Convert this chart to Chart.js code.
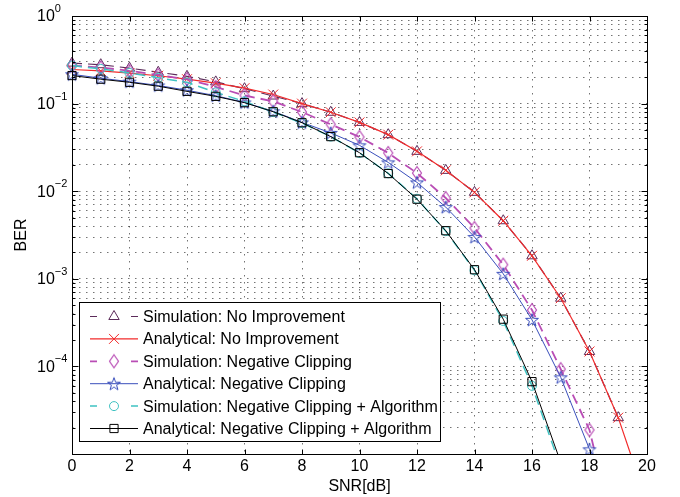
<!DOCTYPE html>
<html>
<head>
<meta charset="utf-8">
<script src="https://cdn.jsdelivr.net/npm/chart.js@4.4.0/dist/chart.umd.min.js"></script>
<style>
  html, body { margin: 0; padding: 0; background: #fff; }
  #wrap { width: 680px; height: 497px; }
</style>
</head>
<body>
<div id="wrap"><canvas id="berChart" width="680" height="497"></canvas></div>
<script>
// SNR values (dB)
const snr = [0, 1, 2, 3, 4, 5, 6, 7, 8, 9, 10, 11, 12, 13, 14, 15, 16, 17, 18, 19, 20];

// BER curves
const simNoImprovement = [0.29, 0.278, 0.254, 0.228, 0.205, 0.177, 0.148, 0.122, 0.1, 0.0796, 0.061, 0.0442, 0.0285, 0.0173, 0.0097, 0.0046, 0.00183, 0.0006, 0.000148, 0.000026, null];
const anaNoImprovement = [0.245, 0.236, 0.223, 0.208, 0.19, 0.171, 0.15, 0.127, 0.1, 0.0796, 0.061, 0.0442, 0.0285, 0.0173, 0.0097, 0.0046, 0.00183, 0.0006, 0.000148, 0.000026, 0.0000028];
const simNegClip = [0.272, 0.258, 0.237, 0.212, 0.19, 0.155, 0.124, 0.106, 0.08, 0.058, 0.0416, 0.0273, 0.0161, 0.00836, 0.0038, 0.00145, 0.00044, 0.000093, 0.0000188, 0.0000008, null];
const anaNegClip = [0.216, 0.195, 0.178, 0.161, 0.142, 0.123, 0.103, 0.0817, 0.061, 0.0463, 0.0334, 0.0213, 0.0126, 0.00659, 0.003, 0.00114, 0.00034, 0.000075, 0.0000113, 0.0000032, null];
const simNegClipAlg = [0.272, 0.249, 0.224, 0.197, 0.175, 0.134, 0.106, 0.08, 0.06, 0.042, 0.0273, 0.016, 0.0082, 0.0035, 0.00125, 0.00033, 0.00006, 0.000007, null, null, null];
const anaNegClipAlg = [0.209, 0.19, 0.175, 0.158, 0.138, 0.121, 0.1025, 0.0807, 0.0605, 0.042, 0.0275, 0.0159, 0.0081, 0.00354, 0.00127, 0.000346, 0.000067, 0.000008, null, null, null];

// axis ticks
const xTicks = [0, 2, 4, 6, 8, 10, 12, 14, 16, 18, 20];
const yDecades = [1, 1e-1, 1e-2, 1e-3, 1e-4, 1e-5];
// the bottom decade carries no label in the original
const yLabelDecades = [1, 1e-1, 1e-2, 1e-3, 1e-4];
const yExponents = ["0", "\u22121", "\u22122", "\u22123", "\u22124"];

const legendLabels = [
  "Simulation: No Improvement",
  "Analytical: No Improvement",
  "Simulation: Negative Clipping",
  "Analytical: Negative Clipping",
  "Simulation: Negative Clipping + Algorithm",
  "Analytical: Negative Clipping + Algorithm",
];

const FONT = "'Liberation Sans', Arial, Helvetica, sans-serif";

// minor + major positions for the log grid
const yGrid = [];
for (let e = -5; e < 0; e++) {
  for (let m = 1; m <= 9; m++) yGrid.push(m * Math.pow(10, e));
}
yGrid.push(1);

// custom marker shapes (MATLAB-like pentagram and diamond)
function makeStar(color) {
  const c = document.createElement("canvas");
  c.width = 18; c.height = 18;
  const g = c.getContext("2d");
  g.strokeStyle = color; g.lineWidth = 1;
  g.beginPath();
  for (let i = 0; i < 10; i++) {
    const r = i % 2 === 0 ? 6.8 : 2.7;
    const a = -Math.PI / 2 + i * Math.PI / 5;
    const px = 9 + r * Math.cos(a), py = 9.6 + r * Math.sin(a);
    if (i === 0) g.moveTo(px, py); else g.lineTo(px, py);
  }
  g.closePath(); g.stroke();
  return c;
}
function makeDiamond(color) {
  const c = document.createElement("canvas");
  c.width = 14; c.height = 16;
  const g = c.getContext("2d");
  g.strokeStyle = color; g.lineWidth = 1.2;
  g.beginPath();
  g.moveTo(7, 1.5); g.lineTo(11.5, 8); g.lineTo(7, 14.5); g.lineTo(2.5, 8);
  g.closePath(); g.stroke();
  return c;
}

const colPurple = "#5c2b5a";
const colRed = "#f22b2b";
const colMagenta = "#b94db5";
const colBlue = "#3a4fbc";
const colCyan = "#3fc2c2";
const colBlack = "#000000";

const clipLeft = { left: 14, top: 0, right: 0, bottom: 0 };

function series(label, data, color, dashed, style, radius, width, order) {
  return {
    label: label,
    data: data,
    borderColor: color,
    borderWidth: width,
    borderDash: dashed ? [10, 6] : [],
    pointStyle: style,
    pointRadius: radius,
    pointBorderColor: color,
    pointBackgroundColor: "rgba(0,0,0,0)",
    pointBorderWidth: 1,
    tension: 0,
    fill: false,
    spanGaps: false,
    order: order,
    clip: clipLeft,
  };
}

const datasets = [
  series(legendLabels[0], simNoImprovement, colPurple, true, "triangle", 6, 1.2, 6),
  series(legendLabels[1], anaNoImprovement, colRed, false, "crossRot", 7, 1.2, 5),
  series(legendLabels[2], simNegClip, colMagenta, true, makeDiamond(colMagenta), 6, 1.8, 4),
  series(legendLabels[3], anaNegClip, colBlue, false, makeStar(colBlue), 6, 1, 3),
  series(legendLabels[4], simNegClipAlg, colCyan, true, "circle", 4.5, 1.5, 2),
  series(legendLabels[5], anaNegClipAlg, colBlack, false, "rect", 5.8, 1, 1),
];

function drawMarker(ctx, style, radius, x, y) {
  if (style instanceof HTMLCanvasElement) {
    ctx.drawImage(style, x - style.width / 2, y - style.height / 2);
    return;
  }
  ctx.beginPath();
  if (style === "triangle") {
    for (let i = 0; i < 3; i++) {
      const a = i * 2 * Math.PI / 3;
      const px = x + Math.sin(a) * radius, py = y - Math.cos(a) * radius;
      if (i === 0) ctx.moveTo(px, py); else ctx.lineTo(px, py);
    }
    ctx.closePath();
  } else if (style === "crossRot") {
    const d = radius * Math.SQRT1_2;
    ctx.moveTo(x - d, y - d); ctx.lineTo(x + d, y + d);
    ctx.moveTo(x - d, y + d); ctx.lineTo(x + d, y - d);
  } else if (style === "circle") {
    ctx.arc(x, y, radius, 0, Math.PI * 2);
  } else if (style === "rect") {
    const s = radius * Math.SQRT1_2;
    ctx.rect(x - s, y - s, 2 * s, 2 * s);
  }
  ctx.stroke();
}

const matlabFrame = {
  id: "matlabFrame",
  beforeDraw(chart) {
    const ctx = chart.ctx;
    ctx.save();
    ctx.fillStyle = "#fff";
    ctx.fillRect(0, 0, chart.width, chart.height);
    ctx.restore();
  },
  afterDatasetsDraw(chart) {
    const ctx = chart.ctx;
    const xs = chart.scales.x, ys = chart.scales.y;
    const a = chart.chartArea;
    const L = Math.round(a.left) + 0.5, R = Math.round(a.right) + 0.5;
    const T = Math.round(a.top) + 0.5, B = Math.round(a.bottom) + 0.5;
    ctx.save();
    ctx.strokeStyle = "#000";
    ctx.lineWidth = 1;
    ctx.setLineDash([]);
    ctx.strokeRect(L, T, R - L, B - T);

    // inward tick marks
    ctx.beginPath();
    xTicks.forEach((v) => {
      const px = Math.round(xs.getPixelForValue(v)) + 0.5;
      ctx.moveTo(px, B); ctx.lineTo(px, B - 5);
      ctx.moveTo(px, T); ctx.lineTo(px, T + 5);
    });
    yGrid.forEach((v) => {
      const py = Math.round(ys.getPixelForValue(v)) + 0.5;
      const len = yDecades.indexOf(v) >= 0 ? 6 : 3;
      ctx.moveTo(L, py); ctx.lineTo(L + len, py);
      ctx.moveTo(R, py); ctx.lineTo(R - len, py);
    });
    ctx.stroke();

    // tick labels
    ctx.fillStyle = "#000";
    ctx.font = "16px " + FONT;
    ctx.textAlign = "center";
    ctx.textBaseline = "middle";
    xTicks.forEach((v) => {
      ctx.fillText(String(v), xs.getPixelForValue(v), 467);
    });
    yLabelDecades.forEach((v, i) => {
      const py = ys.getPixelForValue(v);
      ctx.font = "16px " + FONT;
      ctx.textAlign = "left";
      ctx.fillText("10", 37, py + 1);
      const w = ctx.measureText("10").width;
      ctx.font = "11px " + FONT;
      ctx.fillText(yExponents[i], 37 + w, py - 7);
    });

    // axis titles
    ctx.font = "16px " + FONT;
    ctx.textAlign = "center";
    ctx.fillText("SNR[dB]", (a.left + a.right) / 2, 487);
    ctx.save();
    ctx.translate(22, (a.top + a.bottom) / 2);
    ctx.rotate(-Math.PI / 2);
    ctx.fillText("BER", 0, 0);
    ctx.restore();
    ctx.restore();
  },
  afterDraw(chart) {
    const ctx = chart.ctx;
    ctx.save();
    // legend box
    ctx.fillStyle = "#fff";
    ctx.fillRect(79.5, 302.5, 361, 139);
    ctx.strokeStyle = "#000";
    ctx.lineWidth = 1;
    ctx.strokeRect(79.5, 302.5, 361, 139);

    chart.data.datasets.forEach((ds, i) => {
      const y = 316.5 + i * 22.4;
      ctx.strokeStyle = ds.borderColor;
      ctx.lineWidth = ds.borderWidth;
      ctx.setLineDash([]);
      ctx.beginPath();
      if (ds.borderDash.length) {
        ctx.moveTo(90, y); ctx.lineTo(97, y);
        ctx.moveTo(131, y); ctx.lineTo(138, y);
      } else {
        ctx.moveTo(90, y); ctx.lineTo(138, y);
      }
      ctx.stroke();
      ctx.lineWidth = 1;
      drawMarker(ctx, ds.pointStyle, ds.pointRadius, 114, y);
      ctx.fillStyle = "#000";
      ctx.font = "16px " + FONT;
      ctx.textAlign = "left";
      ctx.textBaseline = "middle";
      ctx.fillText(ds.label, 143, y + 1);
    });
    ctx.restore();
  },
};

new Chart(document.getElementById("berChart"), {
  type: "line",
  data: { labels: snr, datasets: datasets },
  options: {
    responsive: false,
    animation: false,
    devicePixelRatio: 1,
    layout: { padding: { left: 72, right: 33, top: 16, bottom: 43 } },
    plugins: { legend: { display: false }, tooltip: { enabled: false } },
    scales: {
      x: {
        type: "linear",
        min: 0,
        max: 20,
        afterBuildTicks: (scale) => { scale.ticks = xTicks.map((v) => ({ value: v })); },
        ticks: { display: false },
        title: { display: false },
        grid: { drawTicks: false, color: "rgba(0,0,0,0.55)", lineWidth: 1 },
        border: { display: false, dash: [1.5, 5.5] },
      },
      y: {
        type: "logarithmic",
        min: 1e-5,
        max: 1,
        afterBuildTicks: (scale) => { scale.ticks = yGrid.map((v) => ({ value: v })); },
        ticks: { display: false },
        title: { display: false },
        grid: { drawTicks: false, color: "rgba(0,0,0,0.55)", lineWidth: 1 },
        border: { display: false, dash: [1.5, 5.5] },
      },
    },
  },
  plugins: [matlabFrame],
});
</script>
</body>
</html>
